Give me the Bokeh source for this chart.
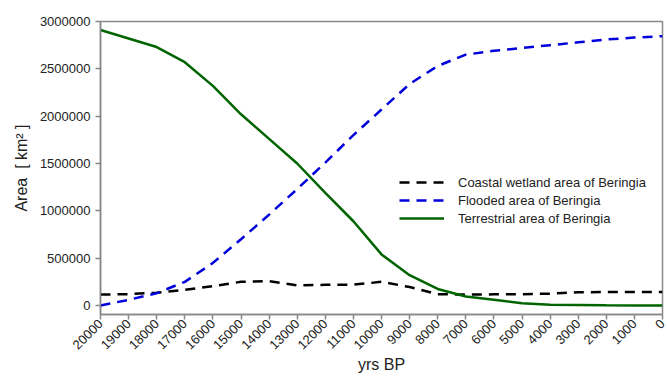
import math
from bokeh.plotting import figure
from bokeh.models import Range1d, FixedTicker, NumeralTickFormatter, Legend, LegendItem
from bokeh.embed import file_html
from bokeh.resources import INLINE

years = [20000, 19000, 18000, 17000, 16000, 15000, 14000, 13000, 12000, 11000, 10000,
         9000, 8000, 7000, 6000, 5000, 4000, 3000, 2000, 1000, 0]
coastal = [115000, 120000, 135000, 165000, 205000, 250000, 258000, 212000, 218000, 220000, 250000,
           195000, 120000, 115000, 118000, 120000, 125000, 140000, 142000, 142000, 142000]
flooded = [0, 60000, 130000, 250000, 450000, 700000, 960000, 1230000, 1510000, 1800000, 2070000,
           2340000, 2530000, 2650000, 2690000, 2720000, 2750000, 2780000, 2810000, 2830000, 2845000]
terrestrial = [2910000, 2820000, 2730000, 2570000, 2320000, 2020000, 1760000, 1500000, 1190000, 890000, 540000,
               320000, 175000, 95000, 60000, 25000, 8000, 5000, 2000, 0, 0]

x_ticks = list(range(0, 20001, 1000))
y_ticks = list(range(0, 3000001, 500000))

p = figure(width=667, height=376, output_backend="svg", toolbar_location=None,
           x_range=Range1d(20000, 0), y_range=Range1d(-95000, 3000000),
           min_border_left=100, min_border_right=5, min_border_top=21, min_border_bottom=60)
p.grid.visible = False
p.outline_line_color = "#888888"
p.outline_line_width = 1.5

l1 = p.line(years, coastal, line_color="black", line_width=2.5, line_dash="10 7")
l2 = p.line(years, flooded, line_color="#0000dd", line_width=2.5, line_dash="10 7")
l3 = p.line(years, terrestrial, line_color="#006400", line_width=2.5)

for ax in (p.xaxis, p.yaxis):
    ax.axis_line_color = "#888888"
    ax.axis_line_width = 1.5
    ax.major_tick_line_color = "#888888"
    ax.major_tick_line_width = 1.5
    ax.major_tick_in = 0
    ax.major_tick_out = 5
    ax.minor_tick_line_color = None
    ax.major_label_text_font = "Liberation Sans"
    ax.major_label_text_font_size = "13px"
    ax.major_label_text_color = "#222222"
    ax.axis_label_text_font = "Liberation Sans"
    ax.axis_label_text_font_size = "16px"
    ax.axis_label_text_font_style = "normal"
    ax.axis_label_text_color = "#222222"

p.xaxis.ticker = FixedTicker(ticks=x_ticks)
p.yaxis.ticker = FixedTicker(ticks=y_ticks)
p.yaxis.formatter = NumeralTickFormatter(format="0")
p.xaxis.formatter = NumeralTickFormatter(format="0")
p.xaxis.major_label_orientation = math.pi / 4
p.xaxis.major_label_standoff = 2
p.xaxis.axis_label = "yrs BP"
p.yaxis.axis_label = "Area\u00a0\u00a0[\u00a0km\u00b2\u00a0]"
p.xaxis.axis_label_standoff = 0
p.yaxis.axis_label_standoff = 7

legend = Legend(items=[
    LegendItem(label="Coastal wetland area of Beringia", renderers=[l1]),
    LegendItem(label="Flooded area of Beringia", renderers=[l2]),
    LegendItem(label="Terrestrial area of Beringia", renderers=[l3]),
], location=(299, 87))
legend.border_line_color = None
legend.background_fill_alpha = 0
legend.label_text_font = "Liberation Sans"
legend.label_text_font_size = "13px"
legend.label_text_color = "#222222"
legend.glyph_width = 45
legend.glyph_height = 18
legend.label_height = 18
legend.spacing = 0
legend.label_standoff = 14
legend.padding = 5
p.add_layout(legend)

open("out.html", "w").write(file_html(p, INLINE))
